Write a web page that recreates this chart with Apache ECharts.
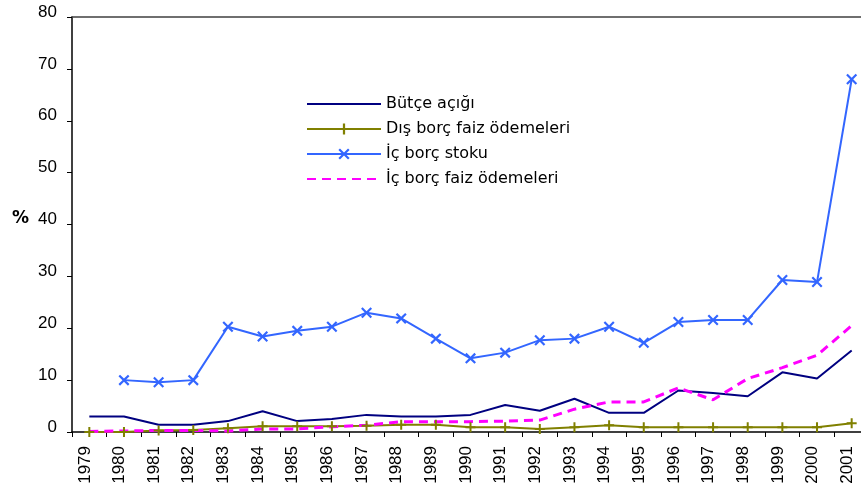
<!DOCTYPE html>
<html>
<head>
<meta charset="utf-8">
<script src="https://cdn.jsdelivr.net/npm/echarts@6.0.0/dist/echarts.min.js"></script>
<style>
    html, body {margin: 0; padding: 0; background: #fff;}
    #chart {width: 861px; height: 496px;}
</style>
</head>
<body>
<div id="chart"></div>
<script>
// years on the category axis
let years = ['1979', '1980', '1981', '1982', '1983', '1984', '1985', '1986', '1987', '1988', '1989', '1990',
    '1991', '1992', '1993', '1994', '1995', '1996', '1997', '1998', '1999', '2000', '2001'];
// values (%)
let butceAcigi = [3.0, 3.0, 1.4, 1.4, 2.1, 4.0, 2.1, 2.5, 3.3, 3.0, 3.0, 3.3,
    5.2, 4.1, 6.4, 3.7, 3.7, 8.0, 7.5, 6.9, 11.5, 10.3, 15.7];
let disBorcFaiz = [0.0, 0.0, 0.3, 0.4, 0.7, 1.1, 1.1, 1.1, 1.2, 1.4, 1.4, 0.9,
    0.9, 0.6, 0.9, 1.3, 0.9, 0.9, 0.9, 0.9, 0.9, 0.9, 1.7];
let icBorcStoku = [null, 10.0, 9.6, 10.0, 20.3, 18.4, 19.5, 20.3, 23.0, 21.9, 18.0, 14.2,
    15.3, 17.7, 18.0, 20.3, 17.2, 21.2, 21.6, 21.6, 29.3, 28.9, 68.0];
let icBorcFaiz = [0.1, 0.2, 0.3, 0.3, 0.2, 0.6, 0.6, 1.0, 1.3, 2.0, 2.0, 2.0,
    2.1, 2.3, 4.4, 5.8, 5.8, 8.5, 6.2, 10.3, 12.4, 14.8, 20.5];
let seriesNames = ['Bütçe açığı', 'Dış borç faiz ödemeleri', 'İç borç stoku', 'İç borç faiz ödemeleri'];

let plusPath = 'path://M4,0H6V4H10V6H6V10H4V6H0V4H4Z';
let crossPath = 'path://M0,1.4L1.4,0L5,3.6L8.6,0L10,1.4L6.4,5L10,8.6L8.6,10L5,6.4L1.4,10L0,8.6L3.6,5Z';

let myChart = echarts.init(document.getElementById('chart'));
let option = {
    animation: false,
    backgroundColor: '#fff',
    grid: {
        left: 72,
        top: 17,
        width: 797,
        height: 415,
        outerBoundsMode: 'none'
    },
    legend: {
        orient: 'vertical',
        left: 306,
        top: 96,
        padding: 0,
        itemWidth: 74,
        itemHeight: 14,
        itemGap: 9,
        data: [
            {name: seriesNames[0], itemStyle: {opacity: 0}},
            {name: seriesNames[1]},
            {name: seriesNames[2]},
            {name: seriesNames[3], itemStyle: {opacity: 0}}
        ],
        textStyle: {
            fontFamily: 'DejaVu Sans',
            fontSize: 16,
            color: '#000'
        }
    },
    xAxis: [
        {
            type: 'category',
            data: years,
            boundaryGap: true,
            axisLine: {lineStyle: {color: '#000', width: 1.5}},
            axisTick: {show: true, interval: 0, length: 5, lineStyle: {color: '#000'}},
            axisLabel: {
                interval: 0,
                rotate: 90,
                margin: 14,
                verticalAlign: 'bottom',
                lineHeight: 9,
                fontFamily: 'Liberation Sans',
                fontSize: 17,
                color: '#000'
            }
        },
        {
            type: 'category',
            data: years,
            position: 'top',
            axisLine: {lineStyle: {color: '#404040', width: 1.5}},
            axisTick: {show: false},
            axisLabel: {show: false}
        }
    ],
    yAxis: {
        type: 'value',
        min: 0,
        max: 80,
        interval: 10,
        name: '%',
        nameLocation: 'middle',
        nameRotate: 0,
        nameGap: 43,
        nameTextStyle: {
            fontFamily: 'DejaVu Sans',
            fontWeight: 'bold',
            fontSize: 17,
            color: '#000',
            verticalAlign: 'bottom',
            lineHeight: 11
        },
        axisLine: {show: true, lineStyle: {color: '#000', width: 1.5}},
        axisTick: {show: true, length: 5, lineStyle: {color: '#000'}},
        splitLine: {show: false},
        axisLabel: {
            margin: 15,
            verticalAlign: 'bottom',
            lineHeight: 10,
            fontFamily: 'Liberation Sans',
            fontSize: 17,
            color: '#000'
        }
    },
    series: [
        {
            name: seriesNames[0],
            type: 'line',
            data: butceAcigi,
            symbol: 'none',
            color: '#000080',
            lineStyle: {color: '#000080', width: 2}
        },
        {
            name: seriesNames[1],
            type: 'line',
            data: disBorcFaiz,
            symbol: plusPath,
            symbolSize: 10,
            color: '#808000',
            itemStyle: {color: '#808000'},
            lineStyle: {color: '#808000', width: 2}
        },
        {
            name: seriesNames[2],
            type: 'line',
            data: icBorcStoku,
            symbol: crossPath,
            symbolSize: 11,
            color: '#3366ff',
            itemStyle: {color: '#3366ff'},
            lineStyle: {color: '#3366ff', width: 2}
        },
        {
            name: seriesNames[3],
            type: 'line',
            data: icBorcFaiz,
            symbol: 'none',
            color: '#ff00ff',
            lineStyle: {color: '#ff00ff', width: 3, type: [9, 6]}
        }
    ]
};
myChart.setOption(option);
</script>
</body>
</html>
